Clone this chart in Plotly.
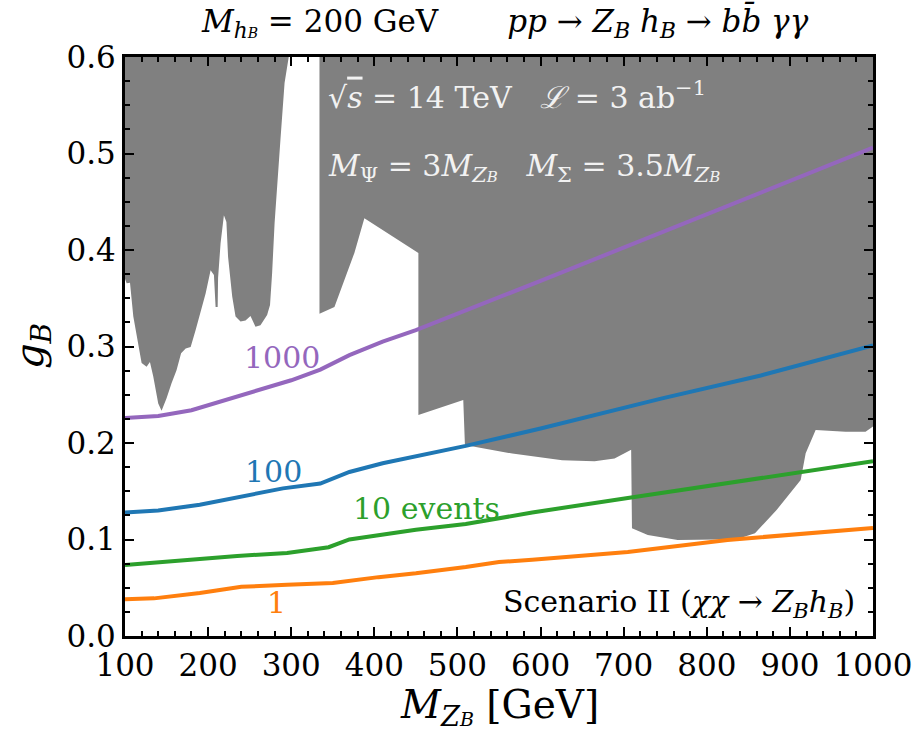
import plotly.graph_objects as go

# Event-count contours in the (M_ZB, g_B) plane
MZB_1000 = [100, 140, 180, 240, 300, 335, 370, 410, 450, 600, 800, 1000]
GB_1000 = [0.226, 0.228, 0.234, 0.250, 0.265, 0.276, 0.291, 0.305, 0.317, 0.368, 0.437, 0.506]

MZB_100 = [100, 140, 190, 250, 290, 335, 370, 410, 470, 510, 600, 745, 865, 1000]
GB_100 = [0.128, 0.130, 0.136, 0.146, 0.153, 0.158, 0.170, 0.179, 0.190, 0.197, 0.215, 0.246, 0.270, 0.301]

MZB_10 = [100, 175, 235, 295, 345, 370, 450, 510, 590, 705, 800, 907, 1000]
GB_10 = [0.0736, 0.079, 0.083, 0.086, 0.092, 0.100, 0.110, 0.116, 0.128, 0.143, 0.155, 0.169, 0.181]

MZB_1 = [100, 135, 190, 240, 295, 350, 405, 450, 510, 550, 590, 705, 825, 1000]
GB_1 = [0.038, 0.039, 0.0445, 0.051, 0.053, 0.055, 0.061, 0.065, 0.0715, 0.0767, 0.079, 0.087, 0.0995, 0.112]

# Excluded regions (filled grey), two disjoint pieces
EXCL_A_X = [100, 100, 102, 106, 110, 116, 120, 126, 130, 134, 140, 144, 150, 156, 162, 167.5, 173, 179,
            185, 197, 203, 207, 209, 211.5, 212, 215, 219, 222, 224, 229, 233, 239, 245, 251, 257, 263,
            271, 274.5, 277, 280, 282.5, 287, 292, 297]
EXCL_A_Y = [0.6, 0.37, 0.3655, 0.366, 0.331, 0.304, 0.283, 0.279, 0.284, 0.269, 0.241, 0.2335, 0.2465,
            0.262, 0.2755, 0.293, 0.298, 0.2995, 0.317, 0.355, 0.379, 0.374, 0.341, 0.341, 0.371, 0.407,
            0.436, 0.429, 0.393, 0.3517, 0.331, 0.326, 0.327, 0.3316, 0.3205, 0.322, 0.3326, 0.343, 0.376,
            0.428, 0.462, 0.514, 0.573, 0.6]

EXCL_B_X = [334, 334, 352, 364, 376, 388, 453, 453, 507, 509, 566, 626, 665, 689, 709, 710, 729, 765,
            836, 858, 884, 913, 919, 931, 967, 991, 1000, 1000]
EXCL_B_Y = [0.6, 0.334, 0.341, 0.369, 0.397, 0.433, 0.397, 0.229, 0.2446, 0.198, 0.189, 0.182, 0.181,
            0.184, 0.193, 0.1116, 0.1047, 0.0995, 0.1002, 0.1064, 0.1306, 0.1617, 0.1893, 0.2135, 0.2117,
            0.2117, 0.217, 0.6]

X_TICKS = [100, 200, 300, 400, 500, 600, 700, 800, 900, 1000]
Y_TICKS = [0.0, 0.1, 0.2, 0.3, 0.4, 0.5, 0.6]
Y_TICK_TEXT = ["0.0", "0.1", "0.2", "0.3", "0.4", "0.5", "0.6"]

PURPLE = "#9467bd"
BLUE = "#1f77b4"
GREEN = "#2ca02c"
ORANGE = "#ff7f0e"
GREY = "#808080"
SERIF = "DejaVu Serif"

fig = go.Figure()

for xs, ys in [(EXCL_A_X, EXCL_A_Y), (EXCL_B_X, EXCL_B_Y)]:
    fig.add_trace(go.Scatter(x=xs, y=ys, mode="lines", fill="toself", fillcolor=GREY,
                             line=dict(width=0, color=GREY), hoverinfo="skip", showlegend=False))

for xs, ys, col in [(MZB_1000, GB_1000, PURPLE), (MZB_100, GB_100, BLUE),
                    (MZB_10, GB_10, GREEN), (MZB_1, GB_1, ORANGE)]:
    fig.add_trace(go.Scatter(x=xs, y=ys, mode="lines", line=dict(color=col, width=4),
                             showlegend=False))

NB = "\u00a0"
SUB_B = "<sub><i>B</i></sub>"

annotations = [
    # contour labels
    dict(x=289, y=0.289, text="1000", font=dict(color=PURPLE, size=30)),
    dict(x=279, y=0.170, text="100", font=dict(color=BLUE, size=30)),
    dict(x=463, y=0.1326, text="10 events", font=dict(color=GREEN, size=30)),
    dict(x=282, y=0.0352, text="1", font=dict(color=ORANGE, size=30)),
    # benchmark text inside the excluded region
    dict(x=342, y=0.5606, xanchor="left",
         text="\u221a<span style='text-decoration:overline'><i>s</i></span> = 14 TeV" + NB * 3
              + "<i>\u2112</i> = 3 ab<sup>\u22121</sup>",
         font=dict(color="#f2f2f2", size=30)),
    dict(x=342, y=0.485, xanchor="left",
         text="<i>M</i><sub>\u03a8</sub> = 3<i>M</i><sub><i>Z</i><span style='font-size:15px'><i>B</i></span></sub>"
              + NB * 3
              + "<i>M</i><sub>\u03a3</sub> = 3.5<i>M</i><sub><i>Z</i><span style='font-size:15px'><i>B</i></span></sub>",
         font=dict(color="#f2f2f2", size=30)),
    dict(x=981, y=0.0342, xanchor="right",
         text="Scenario II (<i>\u03c7\u03c7</i> \u2192 <i>Z</i>" + SUB_B + "<i>h</i>" + SUB_B + ")",
         font=dict(color="black", size=30)),
]
for a in annotations:
    a.setdefault("xref", "x")
    a.setdefault("yref", "y")
    a.setdefault("showarrow", False)
    a["font"]["family"] = SERIF

paper_ann = [
    dict(x=0.508, y=1.0604,
         text="<i>M</i><sub><i>h</i><span style='font-size:14px'><i>B</i></span></sub>" + NB + "=" + NB
              + "200 GeV" + NB * 7
              + "<i>pp</i> \u2192 <i>Z</i>" + SUB_B + " <i>h</i>" + SUB_B
              + " \u2192 <i>b</i><i>b\u0304</i> <i>\u03b3\u03b3</i>",
         font=dict(size=31)),
    dict(x=0.5, y=-0.122,
         text="<i>M</i><sub><i>Z</i><span style='font-size:19px'><i>B</i></span></sub> [GeV]",
         font=dict(size=39)),
    dict(x=-0.1243, y=0.5009, text="<i>g</i>" + SUB_B, textangle=-90, font=dict(size=40)),
]
for a in paper_ann:
    a.update(xref="paper", yref="paper", showarrow=False, xanchor="center", yanchor="middle")
    a["font"]["family"] = SERIF
    a["font"]["color"] = "black"

axis_common = dict(
    showgrid=False, zeroline=False, showline=True, linecolor="black", linewidth=3,
    mirror="allticks", ticks="inside", ticklen=9, tickwidth=2, tickcolor="black",
    tickfont=dict(family=SERIF, size=31, color="black"),
)

fig.update_layout(
    width=924, height=731,
    margin=dict(l=125, r=43, t=57, b=95),
    paper_bgcolor="white", plot_bgcolor="white",
    font=dict(family=SERIF),
    xaxis=dict(range=[100, 1000], tickvals=X_TICKS,
               minor=dict(ticks="inside", dtick=20, tick0=100, ticklen=5, tickwidth=1.5, tickcolor="black"),
               **axis_common),
    yaxis=dict(range=[0, 0.6], tickvals=Y_TICKS, ticktext=Y_TICK_TEXT,
               minor=dict(ticks="inside", dtick=0.025, tick0=0, ticklen=5, tickwidth=1.5, tickcolor="black"),
               **axis_common),
    annotations=annotations + paper_ann,
)

fig.write_html("out.html")
